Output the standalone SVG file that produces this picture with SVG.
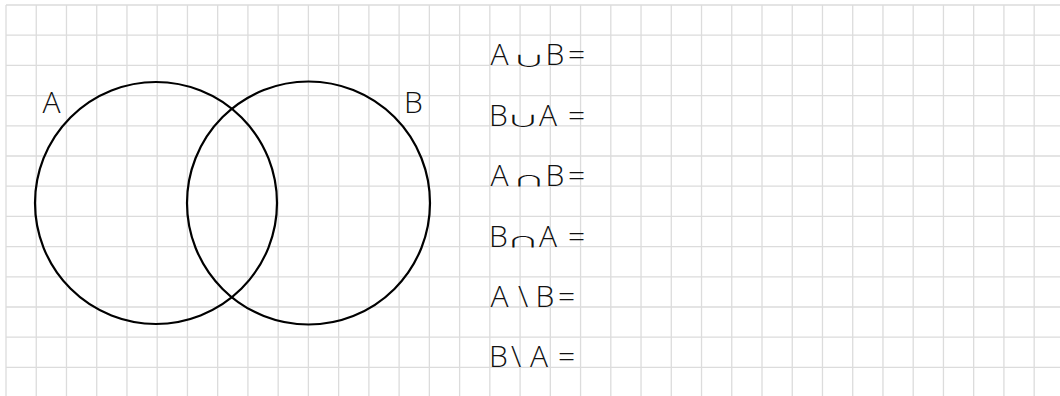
<svg xmlns="http://www.w3.org/2000/svg" width="1060" height="396" viewBox="0 0 1060 396">
<style>
.grid{stroke:#dcdcdc;stroke-width:1.3;fill:none}
.set{fill:none;stroke:#000;stroke-width:2.2}
.t{font-family:"Open Sans","DejaVu Sans",sans-serif;font-size:30px;font-weight:350;fill:#111}
.op{font-family:"Noto Sans CJK JP","DejaVu Sans",sans-serif;font-size:30px;font-weight:350;fill:#111;text-anchor:middle}
.lbl{font-family:"Open Sans","DejaVu Sans",sans-serif;font-size:30px;font-weight:350;fill:#111}
</style>
<rect width="1060" height="396" fill="#fff"/>
<g id="grid">
<path class="grid" d="M6 5V396M36.24 5V396M66.48 5V396M96.72 5V396M126.96 5V396M157.2 5V396M187.44 5V396M217.68 5V396M247.92 5V396M278.16 5V396M308.4 5V396M338.64 5V396M368.88 5V396M399.12 5V396M429.36 5V396M459.6 5V396M489.84 5V396M520.08 5V396M550.32 5V396M580.56 5V396M610.8 5V396M641.04 5V396M671.28 5V396M701.52 5V396M731.76 5V396M762 5V396M792.24 5V396M822.48 5V396M852.72 5V396M882.96 5V396M913.2 5V396M943.44 5V396M973.68 5V396M1003.92 5V396M1034.16 5V396
M6 5H1060M6 35.2H1060M6 65.4H1060M6 95.6H1060M6 125.8H1060M6 156H1060M6 186.2H1060M6 216.4H1060M6 246.6H1060M6 276.8H1060M6 307H1060M6 337.2H1060M6 367.4H1060"/>
</g>
<g id="connectors"></g>
<g id="setA">
<circle class="set" cx="156" cy="203" r="121"/>
<text class="lbl" x="42.5" y="112.5">A</text>
</g>
<g id="setB">
<circle class="set" cx="308.5" cy="203" r="121.5"/>
<text class="lbl" x="404" y="112.5">B</text>
</g>
<g id="expressions">
<g id="row1">
<text class="t" y="65.4"><tspan x="490.5">A</tspan><tspan x="545.5">B</tspan><tspan x="568">=</tspan></text>
<text class="op" transform="translate(529,65.6) scale(1.1,0.5)">∪</text>
</g>
<g id="row2">
<text class="t" y="125.8"><tspan x="489">B</tspan><tspan x="539">A</tspan><tspan x="568">=</tspan></text>
<text class="op" transform="translate(523,126) scale(1.1,0.5)">∪</text>
</g>
<g id="row3">
<text class="t" y="186.2"><tspan x="490.5">A</tspan><tspan x="545.5">B</tspan><tspan x="568">=</tspan></text>
<text class="op" transform="translate(529,186.4) scale(1.1,0.5)">∩</text>
</g>
<g id="row4">
<text class="t" y="246.6"><tspan x="489">B</tspan><tspan x="539">A</tspan><tspan x="568">=</tspan></text>
<text class="op" transform="translate(523,246.8) scale(1.1,0.5)">∩</text>
</g>
<g id="row5">
<text class="t" y="307"><tspan x="490.5">A</tspan><tspan x="518">\</tspan><tspan x="535.5">B</tspan><tspan x="558">=</tspan></text>
</g>
<g id="row6">
<text class="t" y="367.4"><tspan x="489">B</tspan><tspan x="511">\</tspan><tspan x="530">A</tspan><tspan x="558">=</tspan></text>
</g>
</g>
</svg>
